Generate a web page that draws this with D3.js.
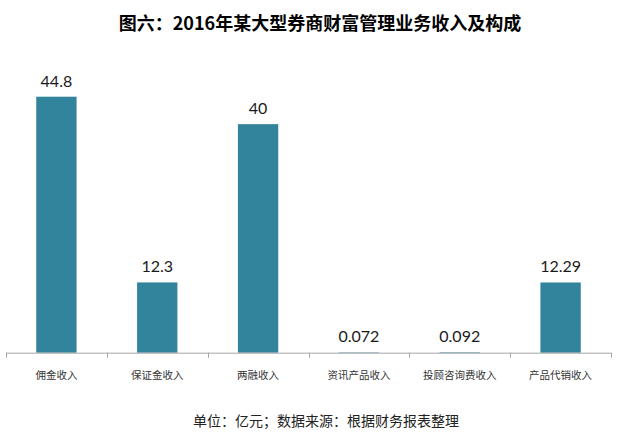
<!DOCTYPE html>
<html><head><meta charset="utf-8">
<script src="https://cdn.jsdelivr.net/npm/d3@7"></script>
<style>body{margin:0;background:#fff}</style>
</head><body>
<svg id="c" width="640" height="443"></svg>
<script>
const categories = ["佣金收入","保证金收入","两融收入","资讯产品收入","投顾咨询费收入","产品代销收入"];
const values = [44.8, 12.3, 40, 0.072, 0.092, 12.29];
const valueLabels = ["44.8","12.3","40","0.072","0.092","12.29"];
const titleText = "图六：2016年某大型券商财富管理业务收入及构成";
const footText = "单位：亿元；数据来源：根据财务报表整理";

const svg = d3.select("#c");
const cjk = "'Noto Sans CJK SC','Microsoft YaHei',sans-serif";
const x = d3.scaleBand().domain(categories).range([6, 611]).padding(0);
const y = d3.scaleLinear().domain([0, 50]).range([352.7, 67]);
const barW = x.bandwidth() * 0.4;

svg.append("text").attr("x", 320).attr("y", 30).attr("text-anchor", "middle")
  .attr("font-family", cjk).attr("font-weight", "bold").attr("font-size", 18)
  .attr("fill", "#000").text(titleText);

svg.selectAll("rect.bar").data(values).join("rect").attr("class","bar")
  .attr("x", (d,i) => x(categories[i]) + (x.bandwidth()-barW)/2)
  .attr("y", d => y(d)).attr("width", barW).attr("height", d => y(0) - y(d))
  .attr("fill", "#31849b");

svg.selectAll("text.val").data(values).join("text").attr("class","val")
  .attr("x", (d,i) => x(categories[i]) + x.bandwidth()/2)
  .attr("y", d => y(d) - 10).attr("text-anchor","middle")
  .attr("font-family","Lato, 'Open Sans', sans-serif").attr("font-size", 16)
  .attr("fill","#1a1a1a").text((d,i) => valueLabels[i]);

// axis
const ax = svg.append("g").attr("stroke", "#a6a6a6").attr("stroke-width", 1);
ax.append("line").attr("x1", x.range()[0]).attr("x2", x.range()[1])
  .attr("y1", y(0)+0.5).attr("y2", y(0)+0.5);
const edges = categories.map(c => x(c)).concat([x.range()[1]]);
ax.selectAll("line.t").data(edges).join("line").attr("class","t")
  .attr("x1", d => Math.round(d)+0.5).attr("x2", d => Math.round(d)+0.5)
  .attr("y1", y(0)).attr("y2", y(0)+5);

svg.selectAll("text.cat").data(categories).join("text").attr("class","cat")
  .attr("x", d => x(d) + x.bandwidth()/2).attr("y", 379)
  .attr("text-anchor","middle").attr("font-family", cjk).attr("font-size", 10.5)
  .attr("fill","#333").text(d => d);

svg.append("text").attr("x", 326).attr("y", 426).attr("text-anchor","middle")
  .attr("font-family", cjk).attr("font-size", 14).attr("fill","#222").text(footText);
</script>
</body></html>
